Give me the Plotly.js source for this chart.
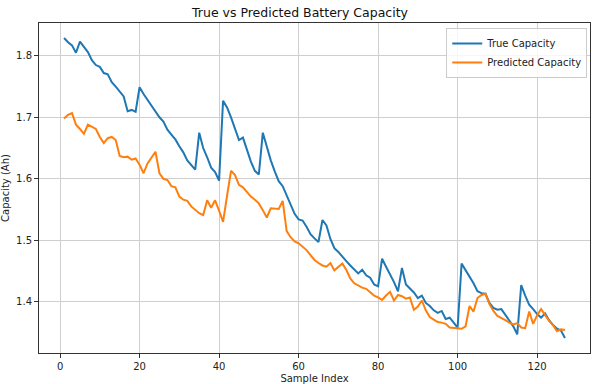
<!DOCTYPE html>
<html>
<head>
<meta charset="utf-8">
<script src="https://cdn.plot.ly/plotly-3.0.1.min.js"></script>
<style>html,body{margin:0;padding:0;background:#fff;}#chart{width:600px;height:384px;}</style>
</head>
<body>
<div id="chart"></div>
<script>
const trueCapacity = [
1.829,1.822,1.817,1.805,1.823,1.814,1.806,1.793,1.785,1.782,
1.772,1.770,1.757,1.750,1.742,1.734,1.710,1.712,1.709,1.749,
1.738,1.728,1.718,1.708,1.700,1.693,1.680,1.672,1.664,1.653,
1.643,1.630,1.622,1.615,1.675,1.650,1.635,1.618,1.611,1.597,
1.727,1.716,1.700,1.683,1.663,1.667,1.648,1.628,1.613,1.607,
1.675,1.652,1.630,1.612,1.596,1.588,1.572,1.558,1.543,1.534,
1.532,1.522,1.510,1.503,1.497,1.533,1.524,1.502,1.487,1.481,
1.473,1.466,1.459,1.452,1.446,1.452,1.443,1.439,1.428,1.425,
1.470,1.457,1.445,1.432,1.417,1.455,1.428,1.421,1.415,1.406,
1.410,1.398,1.393,1.386,1.382,1.385,1.372,1.374,1.366,1.358,
1.462,1.452,1.441,1.430,1.417,1.414,1.413,1.398,1.390,1.387,
1.388,1.378,1.370,1.360,1.347,1.427,1.410,1.395,1.388,1.380,
1.374,1.381,1.370,1.362,1.356,1.353,1.341];
const predictedCapacity = [
1.698,1.704,1.707,1.688,1.681,1.673,1.688,1.684,1.681,1.668,
1.658,1.666,1.668,1.663,1.637,1.635,1.636,1.631,1.633,1.623,
1.609,1.625,1.634,1.644,1.609,1.600,1.598,1.588,1.586,1.571,
1.566,1.564,1.555,1.549,1.544,1.541,1.565,1.553,1.565,1.548,
1.530,1.572,1.613,1.606,1.590,1.586,1.579,1.571,1.566,1.560,
1.549,1.537,1.552,1.552,1.551,1.564,1.515,1.505,1.498,1.495,
1.490,1.484,1.476,1.468,1.463,1.459,1.457,1.463,1.451,1.456,
1.462,1.452,1.438,1.430,1.426,1.423,1.421,1.416,1.410,1.407,
1.403,1.410,1.416,1.402,1.411,1.409,1.405,1.407,1.387,1.392,
1.402,1.386,1.375,1.371,1.367,1.366,1.364,1.358,1.357,1.357,
1.356,1.360,1.393,1.384,1.406,1.411,1.413,1.396,1.385,1.377,
1.374,1.370,1.366,1.363,1.365,1.358,1.357,1.384,1.364,1.378,
1.388,1.378,1.369,1.362,1.352,1.355,1.354];
const sampleIndex = trueCapacity.map((_, i) => i + 1);
const xTicks = [0, 20, 40, 60, 80, 100, 120];
const yTicks = [1.4, 1.5, 1.6, 1.7, 1.8];

const font = {family: 'DejaVu Sans, sans-serif', size: 10, color: '#222'};
const data = [
  {x: sampleIndex, y: trueCapacity, type: 'scatter', mode: 'lines', name: 'True Capacity',
   line: {color: '#1f77b4', width: 2}},
  {x: sampleIndex, y: predictedCapacity, type: 'scatter', mode: 'lines', name: 'Predicted Capacity',
   line: {color: '#ff7f0e', width: 2}}
];
const axisCommon = {
  showline: true, mirror: true, linecolor: '#333', linewidth: 1,
  ticks: 'outside', ticklen: 4, tickcolor: '#333', tickwidth: 1,
  showgrid: true, gridcolor: '#cfcfcf', gridwidth: 1, zeroline: false,
  tickfont: font
};
const layout = {
  width: 600, height: 384,
  margin: {l: 39, r: 10, t: 23, b: 31},
  paper_bgcolor: '#fff', plot_bgcolor: '#fff',
  font: font,
  title: {text: 'True vs Predicted Battery Capacity', font: {family: 'DejaVu Sans, sans-serif', size: 12.5, color: '#111'},
          x: 0.5, xanchor: 'center', y: 0.968, yanchor: 'middle', yref: 'container'},
  xaxis: Object.assign({}, axisCommon, {
    range: [-5.3, 133.3], tickvals: xTicks, ticktext: xTicks.map(String),
    title: {text: 'Sample Index', font: font, standoff: 4}
  }),
  yaxis: Object.assign({}, axisCommon, {
    range: [1.3166, 1.8534], tickvals: yTicks, ticktext: yTicks.map(v => v.toFixed(1)),
    title: {text: 'Capacity (Ah)', font: font, standoff: 6}
  }),
  showlegend: true,
  legend: {x: 0.995, y: 0.985, xanchor: 'right', yanchor: 'top',
           bgcolor: 'rgba(255,255,255,0.8)', bordercolor: '#cccccc', borderwidth: 1,
           font: font, tracegroupgap: 0, itemwidth: 30}
};
Plotly.newPlot('chart', data, layout, {staticPlot: true, displayModeBar: false});
</script>
</body>
</html>
